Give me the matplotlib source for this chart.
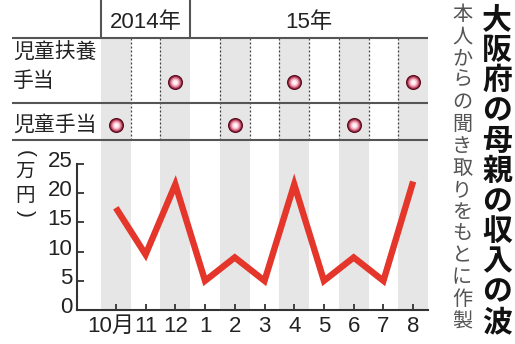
import matplotlib
matplotlib.use("Agg")
import matplotlib.pyplot as plt
import matplotlib.transforms as mtransforms
from matplotlib import font_manager

# ---- data -------------------------------------------------------------
months = ['10月', '11', '12', '1', '2', '3', '4', '5', '6', '7', '8']
income = [17.5, 9.5, 21.5, 5, 9, 5, 21.5, 5, 9, 5, 22]      # 万円
fuyou_months = ['12', '4', '8']       # 児童扶養手当の支給月
jidou_months = ['10月', '2', '6']     # 児童手当の支給月
yticks = [0, 5, 10, 15, 20, 25]
years = ['2014年', '15年']
row_labels = ['児童扶養\n手当', '児童手当']
title = '大阪府の母親の収入の波'
subtitle = '本人からの聞き取りをもとに作製'
unit = '万円'

# ---- fonts ------------------------------------------------------------
avail = {f.name for f in font_manager.fontManager.ttflist}
JP = 'Noto Sans CJK JP'
NUM = 'Liberation Sans' if 'Liberation Sans' in avail else 'DejaVu Sans'
plt.rcParams['font.family'] = [NUM, JP]

# ---- layout helpers (pixel -> figure fraction) -------------------------
W, H = 515, 344
def fx(px):
    return px / W
def fy(py):
    return 1 - py / H

X0, X_LEFT, X_RIGHT = 77, 101, 428      # axis line, first column edge, right edge
ncol = len(months)
colw = (X_RIGHT - X_LEFT) / ncol
xmin = -0.5 - (X_LEFT - X0) / colw
xmax = ncol - 0.5
def xi(px):
    return -0.5 + (px - X_LEFT) / colw

GREY_BAND = '#e6e6e6'
RULE = '#555555'
RED = '#e4362a'

fig = plt.figure(figsize=(W / 100, H / 100), dpi=100)
fig.patch.set_facecolor('white')

# ---- line chart -------------------------------------------------------
ax = fig.add_axes([fx(X0), fy(310), fx(X_RIGHT) - fx(X0), fy(140) - fy(310)])
ax.set_xlim(xmin, xmax)
px_per_unit = (310 - 164) / 25
ax.set_ylim(0, (310 - 140) / px_per_unit)
ax.patch.set_alpha(0)
for i in range(0, ncol, 2):
    ax.axvspan(i - 0.5, i + 0.5, color=GREY_BAND, lw=0, zorder=0)

xs = list(range(ncol))
ax.plot(xs, income, color=RED, lw=4.6, solid_joinstyle='miter',
        solid_capstyle='butt', zorder=3)

for s in ('top', 'right'):
    ax.spines[s].set_visible(False)
for s in ('left', 'bottom'):
    ax.spines[s].set_color('#333333')
    ax.spines[s].set_linewidth(1.5)
ax.spines['left'].set_bounds(0, 25)

ax.set_yticks(yticks)
ax.set_yticklabels([str(v) for v in yticks])
ax.set_xticks(xs)
ax.set_xticklabels(months)
ax.tick_params(axis='y', direction='in', length=5, width=1.3, color='#333333',
               labelsize=16, pad=3.5, labelcolor='#222222')
ax.tick_params(axis='x', direction='in', length=4, width=1.3, color='#333333',
               labelsize=16, pad=4, labelcolor='#222222')
for lab in ax.get_yticklabels():
    lab.set_transform(lab.get_transform() +
                      mtransforms.ScaledTranslation(0, 0.05, fig.dpi_scale_trans))
first = ax.get_xticklabels()[0]
first.set_transform(first.get_transform() +
                    mtransforms.ScaledTranslation(-0.05, 0, fig.dpi_scale_trans))

# unit label, written vertically: (万円) with turned parentheses
fig.text(fx(25), fy(183), '\n'.join(unit), family=[JP], fontsize=14,
         color='#222222', ha='center', va='center', linespacing=1.2)
fig.text(fx(25), fy(154), '(', family=[NUM], fontsize=15, rotation=-90,
         color='#222222', ha='center', va='center')
fig.text(fx(25), fy(213), ')', family=[NUM], fontsize=15, rotation=-90,
         color='#222222', ha='center', va='center')

# ---- allowance table --------------------------------------------------
tab = fig.add_axes([fx(X0), fy(140), fx(X_RIGHT) - fx(X0), fy(38) - fy(140)])
tab.set_xlim(xmin, xmax)
tab.set_ylim(140, 38)
tab.axis('off')
for i in range(0, ncol, 2):
    tab.axvspan(i - 0.5, i + 0.5, color=GREY_BAND, lw=0, zorder=0)

# dotted column separators (none at the year boundary)
year_break = months.index('1') - 0.5
for b in [i + 0.5 for i in range(ncol - 1)]:
    if b == year_break:
        continue
    tab.plot([b, b], [38, 140], color='#444444', lw=0.9,
             ls=(0, (1.6, 1.6)), zorder=1)

# horizontal rules
for ypx in (38, 103, 140):
    tab.plot([xi(12), xmax], [ypx, ypx], color=RULE, lw=1.5,
             clip_on=False, zorder=2, solid_capstyle='butt')
# header separators
for b in (-0.5, year_break):
    tab.plot([b, b], [0, 38], color=RULE, lw=1.5, clip_on=False, zorder=2)

# year captions
tab.text(1, 22, years[0], fontsize=16, ha='center', va='center',
         color='#222222', clip_on=False)
tab.text((year_break + xmax) / 2, 22, years[1], fontsize=16, ha='center',
         va='center', color='#222222', clip_on=False)

# row captions
tab.text(xi(13), 52, row_labels[0].split('\n')[0], family=[JP], fontsize=15,
         ha='left', va='center', color='#222222', clip_on=False)
tab.text(xi(13), 81, row_labels[0].split('\n')[1], family=[JP], fontsize=15,
         ha='left', va='center', color='#222222', clip_on=False)
tab.text(xi(13), 125, row_labels[1], family=[JP], fontsize=15,
         ha='left', va='center', color='#222222', clip_on=False)

# payment markers: dark ring with a light glossy centre
def markers(month_list, ypx):
    idx = [months.index(m) for m in month_list]
    ys = [ypx] * len(idx)
    layers = [(118, '#5a1020'), (80, '#a93552'), (56, '#de7890'),
              (32, '#f4bccb'), (12, '#fff2f5')]
    for z, (s, c) in enumerate(layers):
        tab.scatter(idx, ys, s=s, color=c, lw=0, zorder=5 + z)

markers(fuyou_months, 82)
markers(jidou_months, 125)

# ---- vertical title block --------------------------------------------
for k, ch in enumerate(title):
    fig.text(fx(497), fy(19.5 + k * 30.25), ch, family=[JP], fontsize=21.5,
             fontweight='bold', color='#111111', ha='center', va='center')
for k, ch in enumerate(subtitle):
    fig.text(fx(462), fy(15 + k * 21.9), ch, family=[JP], fontsize=14.5,
             color='#555555', ha='center', va='center')

fig.savefig('out.png', dpi=100, facecolor='white')
